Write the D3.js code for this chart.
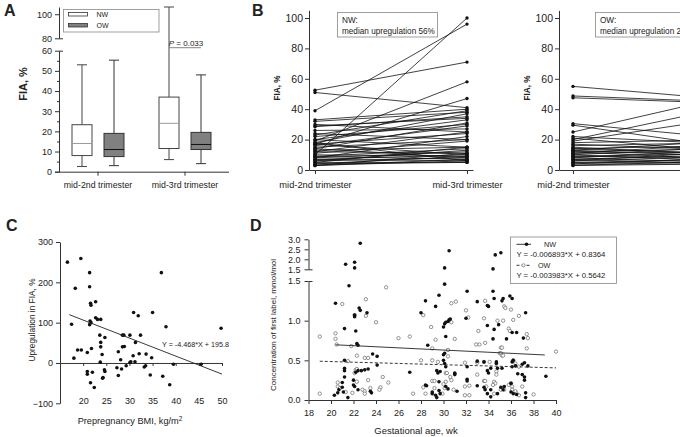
<!DOCTYPE html>
<html><head><meta charset="utf-8">
<script src="https://cdn.jsdelivr.net/npm/d3@7"></script>
<style>
body{margin:0;background:#fff}
svg{display:block}
text{font-family:"Liberation Sans",Arial,sans-serif;fill:#222}
.axis path,.axis line{stroke:#333;stroke-width:1;fill:none}
.axis text{fill:#222}
</style>
</head><body>
<svg id="c" width="680" height="437"></svg>
<script>
// ---------------- DATA ----------------
const trimesters = ["mid-2nd trimester","mid-3rd trimester"];
const groups = ["NW","OW"];
// Panel A box stats (min, q1, median, q3, max) per trimester
const boxNW = [[2.6,8,14,23.3,53],[6,11.5,24,37,106]];
const boxOW = [[3,7.5,11,19,55.3],[4,11,13.5,19.5,48]];
const pLabel = "P = 0.033";

// Panel B paired values (mid-2nd, mid-3rd)
const nwMid2 = [52.5,51,39,10,19,17,33,32,30,29,28.5,23,22,20,18,17,16,15,14,13,12,12,11,10,9,9,8,8,7,7,6,5,5,4,3,3,3,18,17,14,20,26,24,6,4];
const nwMid3 = [71,41,96,100,58,47,40,38,25,34,35,39,30,33,37,24,29,20,31,15,25,11,19,9,14,7,12,22,6,10,8,15,5,9,6,7,11,6,10,8,15,27,20,13,5];
const owMid2 = [55,48.7,47.5,25,20,19,30.5,29.5,22,21,18,17,16,15,14,13,13,12,12,11,10,10,9,9,8,8,7,7,6,6,5,5,4,4,3,3,14,11];
const owMid3 = [46.5,44.8,44,48,41,34,21,15,17,12,20,13,18,10,16,9,19,14,7,12,15,6,11,8,13,5,10,4,9,12,7,5,8,4,6,4,11,17];
const nwNote = ["NW:","median upregulation 56%"];
const owNote = ["OW:","median upregulation 24%"];

// Panel C
const bmi    = [16.6,19.5,18.3,21.4,21.4,21.6,21.7,22.7,17.5,21.5,21.4,21.7,22.7,23.1,23.8,23.6,24.7,23.8,23.8,24.1,23.7,18.0,18.8,19.6,20.9,21.8,20.9,20.9,22.0,21.6,22.4,24.6,24.7,24.3,24.2,28.5,28.8,27.6,28.1,28.5,28.9,27.3,28.3,27.6,29.3,30.1,30.3,30.1,30.8,31.2,31.3,30.9,31.9,32.1,32.4,33.6,33.2,33.5,34.8,34.5,35.0,36.9,37.2,37.9,38.7,39.5,45.5,49.8];
const upreg  = [250,259,185,224,189,148,143,152,96,104,95,100,112,108,108,69,63,51,40,21,2,12,32,32,26,36,-21,-28,-23,-49,-61,-17,-21,-36,-38,69,69,28,8,40,41,-12,-15,-31,-7,1,3,69,18,3,51,125,117,23,69,22,-10,-7,13,-30,125,224,-33,90,-54,-3,-3,86];
const fitC = {slope:-4.468, intercept:195.8, from:17, to:50, label:"Y = -4.468*X + 195.8"};

// Panel D  [gestational age, concentration]
const dNW = [[22.6,2.8],[21.3,1.75],[22.1,1.85],[22.1,1.57],[21.6,1.44],[20.4,1.22],[22.5,1.16],[22.6,1.13],[23.2,1.10],[22.1,1.07],[22.1,1.05],[21.2,0.90],[22.2,0.87],[22.3,0.71],[22.4,0.69],[21.2,0.50],[23.7,0.58],[24.1,0.55],[24.1,0.44],[23.3,0.39],[23.0,0.38],[22.7,0.37],[22.4,0.37],[22.2,0.35],[21.2,0.40],[21.2,0.37],[21.2,0.29],[22.0,0.25],[22.0,0.19],[22.1,0.17],[22.4,0.13],[21.0,0.22],[21.0,0.16],[20.7,0.13],[20.6,0.09],[20.3,0.06],[21.5,0.03],[21.1,0.10],[23.5,0.11],[23.6,0.09],[27.0,0.35],[28.0,1.10],[28.4,1.25],[28.6,0.69],[29.3,1.18],[29.6,1.32],[30.1,1.57],[30.1,1.46],[30.0,0.92],[30.1,0.96],[30.2,0.98],[30.4,0.99],[30.5,1.01],[30.6,1.02],[30.5,2.43],[30.2,0.80],[28.4,0.19],[28.5,0.18],[30.0,0.57],[30.1,0.59],[30.0,0.50],[30.1,0.46],[30.2,0.42],[29.5,0.34],[29.7,0.36],[29.4,0.37],[29.0,0.10],[29.0,0.08],[29.3,0.06],[29.4,0.03],[29.6,0.23],[30.2,0.17],[30.4,0.14],[31.0,0.32],[29.6,0.12],[29.7,0.08],[34.6,2.22],[35.1,2.33],[34.4,1.52],[32.1,1.37],[33.0,1.24],[33.9,1.19],[34.0,1.18],[34.5,1.28],[34.4,1.37],[35.2,1.25],[35.3,1.28],[35.9,1.31],[36.1,1.28],[37.3,1.10],[32.0,1.03],[33.9,0.94],[34.9,0.95],[34.5,0.89],[34.4,0.77],[35.6,0.77],[36.1,0.85],[36.5,0.85],[37.1,0.78],[33.0,0.49],[33.6,0.48],[34.7,0.48],[34.7,0.46],[36.1,0.48],[36.2,0.50],[37.0,0.45],[37.2,0.47],[37.5,0.43],[32.1,0.42],[31.0,0.34],[31.0,0.33],[33.9,0.37],[34.2,0.40],[34.0,0.34],[34.8,0.40],[35.2,0.40],[36.1,0.42],[36.4,0.43],[36.6,0.33],[37.0,0.32],[37.2,0.29],[39.1,0.30],[32.1,0.26],[32.1,0.24],[33.0,0.18],[33.6,0.16],[33.7,0.13],[34.2,0.13],[34.2,0.04],[33.9,0.08],[35.1,0.16],[35.3,0.13],[35.4,0.17],[36.0,0.10],[36.2,0.08],[36.0,0.21],[36.5,0.07],[31.2,0.11],[37.2,0.25],[37.3,0.09],[37.3,0.03],[34.8,0.08]];
const dOW = [[19.0,0.08],[19.0,0.80],[20.4,0.84],[20.4,0.77],[20.5,0.70],[21.0,1.21],[20.6,0.22],[20.6,0.17],[20.8,0.15],[21.3,0.10],[21.5,0.49],[21.9,0.09],[21.8,0.68],[22.1,1.07],[22.2,0.38],[22.3,0.39],[22.1,0.34],[22.3,0.56],[22.3,0.23],[22.8,0.13],[23.0,0.11],[23.0,0.08],[23.1,1.27],[23.1,1.06],[23.0,0.53],[23.3,0.53],[23.3,0.25],[23.5,0.15],[24.0,0.98],[24.4,0.16],[24.3,0.13],[24.6,0.29],[24.9,1.42],[25.1,0.22],[26.0,0.78],[27.0,0.80],[27.3,0.08],[28.0,0.50],[28.2,1.07],[28.2,0.16],[28.4,0.08],[28.9,0.92],[29.0,0.65],[29.0,0.50],[29.0,0.24],[29.2,0.24],[29.3,0.76],[29.5,0.48],[29.2,0.15],[30.2,0.34],[30.3,0.34],[30.4,0.55],[30.7,0.98],[30.7,1.22],[30.4,0.63],[30.6,0.29],[30.7,0.25],[30.2,0.23],[30.0,0.20],[30.1,0.15],[29.9,0.08],[31.1,1.24],[32.0,1.13],[32.2,1.04],[33.1,0.87],[33.7,1.25],[33.6,1.03],[34.8,1.00],[35.3,1.00],[35.4,1.18],[35.5,1.16],[35.8,0.90],[36.0,1.14],[36.2,1.01],[36.7,1.06],[35.9,0.87],[37.4,0.83],[37.5,0.78],[37.4,0.65],[35.1,0.66],[35.2,0.66],[32.9,0.70],[33.2,0.70],[33.7,0.72],[31.0,0.77],[40.0,0.61],[31.9,0.47],[33.0,0.47],[33.6,0.48],[34.1,0.48],[35.0,0.59],[35.1,0.59],[35.2,0.56],[35.3,0.56],[36.2,0.50],[36.4,0.46],[36.7,0.42],[33.0,0.32],[33.6,0.24],[33.7,0.24],[34.5,0.23],[34.6,0.21],[34.4,0.19],[31.9,0.17],[32.3,0.18],[33.8,0.17],[35.1,0.13],[35.4,0.13],[35.8,0.19],[36.0,0.21],[36.1,0.17],[36.1,0.13],[36.4,0.11],[36.5,0.08],[36.7,0.06],[31.9,0.06],[32.3,0.06],[34.5,0.08],[37.0,0.17],[38.0,0.07],[30.9,0.13],[34.7,0.36],[34.7,0.32]];
const fitNW = {slope:-0.006893, intercept:0.8364, from:20.4, to:39.0, label:"Y = -0.006893*X + 0.8364"};
const fitOW = {slope:-0.003983, intercept:0.5642, from:19.0, to:40.0, label:"Y = -0.003983*X + 0.5642"};

// ---------------- DRAW ----------------
const svg = d3.select("#c");
svg.append("rect").attr("width",680).attr("height",437).attr("fill","#fff");

function letter(t,x,y){ svg.append("text").attr("x",x).attr("y",y).attr("font-size",16).attr("font-weight","bold").attr("fill","#111").text(t); }
function styleAxis(g,fs){ g.attr("class","axis"); g.selectAll("text").attr("font-size",fs); return g; }
function vlabel(t,x,y,fs,bold){ svg.append("text").attr("transform",`translate(${x},${y}) rotate(-90)`).attr("text-anchor","middle").attr("font-size",fs).attr("font-weight",bold?"bold":"normal").text(t); }

// ===== Panel A =====
letter("A",4,16);
const xA = d3.scaleBand().domain(trimesters).range([54.5,228.5]);
const offA = d3.scalePoint().domain(groups).range([-16,16]);
const yAlo = d3.scaleLinear().domain([0,60]).range([171.7,50.7]);
const yAhi = d3.scaleLinear().domain([80,106]).range([38.3,7]);
const yA = v => v <= 60 ? yAlo(v) : yAhi(v);
const axAx = 59;
styleAxis(svg.append("g").attr("transform",`translate(${axAx},0)`).call(d3.axisLeft(yAlo).tickValues([0,10,20,30,40,50,60]).tickSize(4).tickSizeOuter(0).tickPadding(3)),9);
svg.append("g").attr("class","axis").attr("transform",`translate(${axAx},0)`).call(d3.axisLeft(yAlo).tickValues([5,15,25,35,45,55]).tickSize(2).tickFormat("")).select(".domain").remove();
styleAxis(svg.append("g").attr("transform",`translate(${axAx},0)`).call(d3.axisLeft(yAhi).tickValues([80,100]).tickSize(4).tickSizeOuter(0).tickPadding(3)),9);
// break caps
svg.append("g").attr("class","axis").attr("transform",`translate(${axAx},0)`).call(d3.axisRight(yAlo).tickValues([60]).tickSize(4).tickFormat("")).select(".domain").remove();
svg.append("g").attr("class","axis").attr("transform",`translate(${axAx},0)`).call(d3.axisRight(yAhi).tickValues([80]).tickSize(4).tickFormat("")).select(".domain").remove();
styleAxis(svg.append("g").attr("transform",`translate(0,${yAlo(0)})`).call(d3.axisBottom(xA).tickSize(4).tickSizeOuter(0).tickPadding(6)),8.8);
vlabel("FIA, %",27,84,11,true);

const boxW = 20, capW = 10;
function drawBox(stats, grp, fill, stroke, medCol){
  stats.forEach((s,i)=>{
    const cx = xA(trimesters[i]) + xA.bandwidth()/2 + offA(grp);
    const g = svg.append("g").attr("stroke",stroke).attr("stroke-width",1);
    g.append("line").attr("x1",cx).attr("x2",cx).attr("y1",yA(s[0])).attr("y2",yA(s[1]));
    g.append("line").attr("x1",cx).attr("x2",cx).attr("y1",yA(s[3])).attr("y2",yA(s[4]));
    g.append("line").attr("x1",cx-capW/2).attr("x2",cx+capW/2).attr("y1",yA(s[0])).attr("y2",yA(s[0]));
    g.append("line").attr("x1",cx-capW/2).attr("x2",cx+capW/2).attr("y1",yA(s[4])).attr("y2",yA(s[4]));
    g.append("rect").attr("x",cx-boxW/2).attr("width",boxW).attr("y",yA(s[3])).attr("height",yA(s[1])-yA(s[3])).attr("fill",fill);
    g.append("line").attr("x1",cx-boxW/2).attr("x2",cx+boxW/2).attr("y1",yA(s[2])).attr("y2",yA(s[2])).attr("stroke",medCol);
  });
}
drawBox(boxNW,"NW","#fff","#444","#999");
drawBox(boxOW,"OW","#808080","#333","#111");
// P annotation
{
  const c1 = xA(trimesters[1]) + xA.bandwidth()/2 + offA("NW");
  const c2 = xA(trimesters[1]) + xA.bandwidth()/2 + offA("OW");
  svg.append("line").attr("x1",c1).attr("x2",c2).attr("y1",47.7).attr("y2",47.7).attr("stroke","#666").attr("stroke-width",0.8);
  const t = svg.append("text").attr("x",(c1+c2)/2+1).attr("y",45.5).attr("text-anchor","middle").attr("font-size",8).attr("fill","#444");
  t.append("tspan").attr("font-style","italic").text(pLabel.slice(0,1));
  t.append("tspan").text(pLabel.slice(1));
}
// legend A
svg.append("rect").attr("x",63.5).attr("y",9.5).attr("width",95.5).attr("height",22.5).attr("fill","#fff").attr("stroke","#888").attr("stroke-width",0.8);
[["NW","#fff",12.5],["OW","#808080",23.5]].forEach(d=>{
  svg.append("rect").attr("x",68.5).attr("y",d[2]).attr("width",19).attr("height",3.5).attr("fill",d[1]).attr("stroke","#333").attr("stroke-width",0.8);
  svg.append("text").attr("x",96.5).attr("y",d[2]+4.5).attr("font-size",7).text(d[0]);
});

// ===== Panel B =====
letter("B",252,16);
const yB = d3.scaleLinear().domain([0,105]).range([170,10.4]);
function pairPanel(axisX, padding, m2, m3, note, noteX){
  const x = d3.scalePoint().domain(trimesters).range([axisX, axisX+152*(1+2*padding)]).padding(padding);
  styleAxis(svg.append("g").attr("transform",`translate(${axisX},0)`).call(d3.axisLeft(yB).tickValues([0,20,40,60,80,100]).tickSize(4).tickSizeOuter(0).tickPadding(2)),10.5);
  styleAxis(svg.append("g").attr("transform",`translate(0,${yB(0)})`).call(d3.axisBottom(x).tickSize(4).tickSizeOuter(0).tickPadding(7.4)),9.3);
  const g = svg.append("g");
  m2.forEach((v,i)=>{
    g.append("line").attr("x1",x(trimesters[0])).attr("x2",x(trimesters[1])).attr("y1",yB(v)).attr("y2",yB(m3[i])).attr("stroke","#111").attr("stroke-width",0.8);
  });
  m2.forEach((v,i)=>{
    g.append("circle").attr("cx",x(trimesters[0])).attr("cy",yB(v)).attr("r",1.7).attr("fill","#111");
    g.append("circle").attr("cx",x(trimesters[1])).attr("cy",yB(m3[i])).attr("r",1.7).attr("fill","#111");
  });
  svg.append("rect").attr("x",noteX+0.5).attr("y",12.5).attr("width",100).attr("height",24.5).attr("fill","#fff").attr("stroke","#888").attr("stroke-width",0.8);
  svg.append("text").attr("x",noteX+5).attr("y",23).attr("font-size",8.2).text(note[0]);
  svg.append("text").attr("x",noteX+5).attr("y",33.5).attr("font-size",8.2).text(note[1]);
}
pairPanel(309, 0.0395, nwMid2, nwMid3, nwNote, 337);
vlabel("FIA, %",280,88,8.2,true);
pairPanel(559, 0.0921, owMid2, owMid3, owNote, 595);
vlabel("FIA, %",530,88,8.2,true);

// ===== Panel C =====
letter("C",6,231);
const xC = d3.scaleLinear().domain([15,50]).range([60,222]);
const yC = d3.scaleLinear().domain([-100,300]).range([403.3,242]);
styleAxis(svg.append("g").attr("transform","translate(60,0)").call(d3.axisLeft(yC).tickValues([-100,0,100,200,300]).tickSize(4).tickSizeOuter(0).tickPadding(3)),9);
styleAxis(svg.append("g").attr("transform",`translate(0,${yC(0)})`).call(d3.axisBottom(xC).tickValues([20,25,30,35,40,45,50]).tickSize(3).tickSizeOuter(0).tickPadding(31.6)),9);
svg.append("g").selectAll("circle").data(bmi).join("circle")
  .attr("cx",d=>xC(d)).attr("cy",(d,i)=>yC(upreg[i])).attr("r",1.8).attr("fill","#111");
svg.append("line").attr("x1",xC(fitC.from)).attr("x2",xC(fitC.to))
  .attr("y1",yC(fitC.slope*fitC.from+fitC.intercept)).attr("y2",yC(fitC.slope*fitC.to+fitC.intercept))
  .attr("stroke","#222").attr("stroke-width",0.9);
svg.append("text").attr("x",162).attr("y",346.5).attr("font-size",7.2).attr("fill","#333").text(fitC.label);
vlabel("Upregulation in FIA, %",35,320,8.3,false);
{
  const t = svg.append("text").attr("x",130).attr("y",424).attr("text-anchor","middle").attr("font-size",9.2).text("Prepregnancy BMI, kg/m");
  t.append("tspan").attr("dy",-3.5).attr("font-size",6.5).text("2");
}

// ===== Panel D =====
letter("D",250,231);
const xD = d3.scaleLinear().domain([18,40]).range([308.5,556]);
const yDlo = d3.scaleLinear().domain([0,1.5]).range([400,281]);
const yDhi = d3.scaleLinear().domain([1.5,3.0]).range([269.3,239.3]);
const yD = v => v > 1.5 ? yDhi(v) : yDlo(v);
const fmt1 = d3.format(".1f");
styleAxis(svg.append("g").attr("transform","translate(308.5,0)").call(d3.axisLeft(yDlo).tickValues([0,0.5,1.0,1.5]).tickFormat(fmt1).tickSize(4).tickSizeOuter(0).tickPadding(4)),9);
styleAxis(svg.append("g").attr("transform","translate(308.5,0)").call(d3.axisLeft(yDhi).tickValues([1.5,2.0,2.5,3.0]).tickFormat(fmt1).tickSize(4).tickSizeOuter(0).tickPadding(4)),9);
svg.append("g").attr("class","axis").attr("transform","translate(308.5,0)").call(d3.axisRight(yDlo).tickValues([1.5]).tickSize(4).tickFormat("")).select(".domain").remove();
svg.append("g").attr("class","axis").attr("transform","translate(308.5,0)").call(d3.axisRight(yDhi).tickValues([1.5]).tickSize(4).tickFormat("")).select(".domain").remove();
styleAxis(svg.append("g").attr("transform",`translate(0,${yDlo(0)})`).call(d3.axisBottom(xD).tickValues(d3.range(18,41,2)).tickSize(4).tickSizeOuter(0).tickPadding(5.6)),9);
svg.append("g").selectAll("circle").data(dOW).join("circle")
  .attr("cx",d=>xD(d[0])).attr("cy",d=>yD(d[1])).attr("r",1.7).attr("fill","#fff").attr("stroke","#666").attr("stroke-width",0.7);
svg.append("g").selectAll("circle").data(dNW).join("circle")
  .attr("cx",d=>xD(d[0])).attr("cy",d=>yD(d[1])).attr("r",1.8).attr("fill","#111");
function fitLine(f,dash){
  svg.append("line").attr("x1",xD(f.from)).attr("x2",xD(f.to))
    .attr("y1",yDlo(f.slope*f.from+f.intercept)).attr("y2",yDlo(f.slope*f.to+f.intercept))
    .attr("stroke","#222").attr("stroke-width",0.9).attr("stroke-dasharray",dash);
}
fitLine(fitNW,null);
fitLine(fitOW,"3,2");
vlabel("Concentration of first label, mmol/mol",276,325,8,false);
svg.append("text").attr("x",416).attr("y",434).attr("text-anchor","middle").attr("font-size",9.5).text("Gestational age, wk");
// legend D
svg.append("rect").attr("x",510.5).attr("y",237).attr("width",106).attr("height",46.5).attr("fill","#fff").attr("stroke","#888").attr("stroke-width",0.8);
svg.append("line").attr("x1",516.5).attr("x2",531).attr("y1",244.3).attr("y2",244.3).attr("stroke","#222").attr("stroke-width",0.9);
svg.append("circle").attr("cx",526.5).attr("cy",244.3).attr("r",1.8).attr("fill","#111");
svg.append("text").attr("x",544).attr("y",247).attr("font-size",7.2).text(groups[0]);
svg.append("text").attr("x",516.5).attr("y",257).attr("font-size",7.7).text(fitNW.label);
svg.append("line").attr("x1",516.5).attr("x2",531).attr("y1",265.3).attr("y2",265.3).attr("stroke","#222").attr("stroke-width",0.9).attr("stroke-dasharray","3,2");
svg.append("circle").attr("cx",523.5).attr("cy",265.3).attr("r",1.6).attr("fill","#fff").attr("stroke","#666").attr("stroke-width",0.7);
svg.append("text").attr("x",538).attr("y",268).attr("font-size",7.2).text(groups[1]);
svg.append("text").attr("x",516.5).attr("y",277.5).attr("font-size",7.7).text(fitOW.label);
</script>
</body></html>
